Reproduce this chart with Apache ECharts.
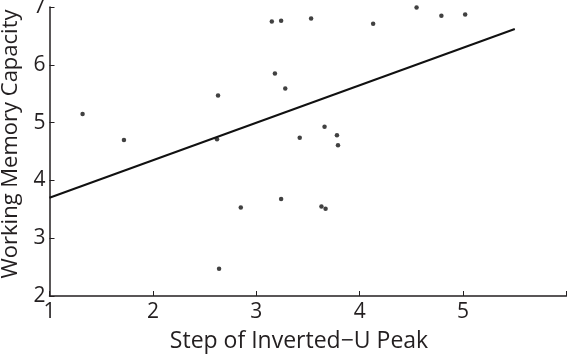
<!DOCTYPE html>
<html><head><meta charset="utf-8">
<script src="https://cdn.jsdelivr.net/npm/echarts@6/dist/echarts.min.js"></script>
<style>html,body{margin:0;padding:0;background:#fff}#c{width:567px;height:354px}</style>
</head><body><div id="c"></div>
<script>
const stepX = [1.32,1.72,2.63,2.62,2.64,2.85,3.15,3.24,3.18,3.28,3.24,3.42,3.53,3.63,3.67,3.66,3.78,3.79,4.13,4.55,4.79,5.02];
const wmcY  = [5.15,4.70,5.47,4.71,2.47,3.53,6.75,6.76,5.85,5.59,3.68,4.74,6.80,3.55,3.51,4.93,4.78,4.61,6.71,6.99,6.85,6.87];
const fitX = [1, 5.5];
const fitY = [3.70, 6.62];
const xTicks = [1,2,3,4,5];
const yTicks = [2,3,4,5,6,7];

const font = 'Open Sans';
const chart = echarts.init(document.getElementById('c'), null, {renderer:'canvas'});
chart.setOption({
  animation:false,
  grid:{left:49.5,right:0.5,top:7,bottom:58,containLabel:false,outerBoundsMode:'none'},
  xAxis:{type:'value',min:1,max:6,interval:1,
    name:'Step of Inverted\u2212U Peak',nameLocation:'middle',nameGap:34,
    nameTextStyle:{fontFamily:font,fontSize:23,color:'#231f20',padding:[0,18,0,0]},
    axisLine:{lineStyle:{color:'#231f20',width:1.5}},
    axisTick:{inside:true,length:5,lineStyle:{color:'#231f20'}},
    axisLabel:{fontFamily:font,fontSize:21,color:'#231f20',margin:6,
      formatter:v=>xTicks.includes(v)?String(v):''},
    splitLine:{show:false}},
  yAxis:{type:'value',min:2,max:7,interval:1,
    name:'Working Memory Capacity',nameLocation:'middle',nameGap:28,
    nameTextStyle:{fontFamily:font,fontSize:22,color:'#231f20',padding:[0,0,0,15]},
    axisLine:{show:true,lineStyle:{color:'#231f20',width:1.5}},
    axisTick:{show:true,inside:true,length:5,lineStyle:{color:'#231f20'}},
    axisLabel:{fontFamily:font,fontSize:21,color:'#231f20',margin:4,
      formatter:v=>yTicks.includes(v)?String(v):''},
    splitLine:{show:false}},
  series:[
    {type:'scatter',data:stepX.map((x,i)=>[x,wmcY[i]]),symbolSize:4.5,
      itemStyle:{color:'#111'}},
    {type:'line',data:fitX.map((x,i)=>[x,fitY[i]]),symbol:'none',
      lineStyle:{color:'#111',width:2}}
  ]
});
</script></body></html>
